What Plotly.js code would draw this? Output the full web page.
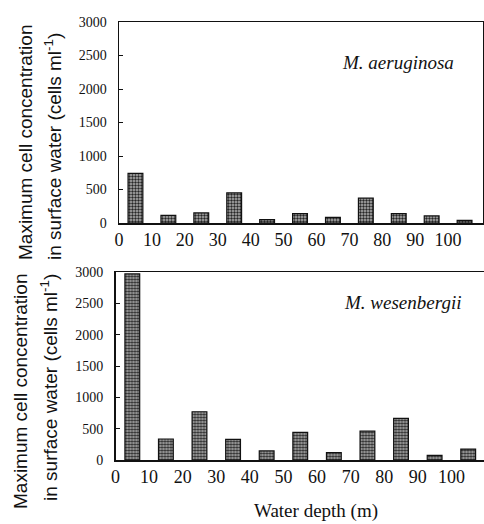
<!DOCTYPE html>
<html>
<head>
<meta charset="utf-8">
<script src="https://cdn.plot.ly/plotly-3.0.1.min.js"></script>
<style>html,body{margin:0;padding:0;background:#fff;}#chart{width:484px;height:524px;}</style>
</head>
<body>
<div id="chart"></div>
<script>
// Water depth bins (bar centres, m)
const depths = [5, 15, 25, 35, 45, 55, 65, 75, 85, 95, 105];
// Maximum cell concentration in surface water (cells ml-1)
const aeruginosa = [740, 115, 150, 450, 50, 140, 85, 370, 140, 105, 40];
const wesenbergii = [2970, 335, 770, 330, 145, 440, 120, 460, 665, 75, 175];
// Axis ticks
const xTicks = [0, 10, 20, 30, 40, 50, 60, 70, 80, 90, 100];
const yTicks = [0, 500, 1000, 1500, 2000, 2500, 3000];
const species = ["M. aeruginosa", "M. wesenbergii"];
const yTitle1 = "Maximum cell concentration";
const yTitle2 = "in surface water (cells ml<sup>-1</sup>)";
const xTitle = "Water depth (m)";

const W = 484, H = 524;
const px = v => v / W;
const py = v => 1 - v / H;

const barMarker = {
  color: '#a8a8a8',
  line: {color: '#111', width: 1.2},
  pattern: {shape: '.', fillmode: 'replace', bgcolor: '#b4b4b4', fgcolor: '#262626', size: 3, solidity: 0.5}
};

const traces = [
  {type: 'bar', x: depths, y: aeruginosa, width: 4.5, marker: barMarker, xaxis: 'x', yaxis: 'y', showlegend: false},
  {type: 'bar', x: depths, y: wesenbergii, width: 4.4, marker: barMarker, xaxis: 'x2', yaxis: 'y2', showlegend: false}
];

const serif = '"Liberation Serif", "Times New Roman", Times, "DejaVu Serif", serif';
const sans = '"Liberation Sans", Arial, sans-serif';

const xCommon = {
  tickmode: 'array', tickvals: xTicks, ticktext: xTicks.map(String),
  ticks: '', showgrid: false, zeroline: false,
  showline: true, linecolor: '#111', linewidth: 1.5,
  tickfont: {family: serif, size: 18, color: '#111'}
};
const yCommon = {
  tickmode: 'array', tickvals: yTicks, ticktext: yTicks.map(String),
  ticks: 'inside', ticklen: 4, tickcolor: '#111', tickwidth: 1,
  showgrid: false, zeroline: false,
  showline: true, linecolor: '#111', linewidth: 1.5,
  range: [0, 3000], ticklabelstandoff: 8,
  tickfont: {family: serif, size: 14, color: '#111'}
};

const layout = {
  width: W, height: H,
  margin: {l: 0, r: 0, t: 0, b: 0},
  paper_bgcolor: '#fff', plot_bgcolor: '#fff',
  font: {family: serif, color: '#111'},
  bargap: 0,
  xaxis: Object.assign({}, xCommon, {domain: [px(119), px(483)], range: [0, 110.6], anchor: 'y', mirror: true}),
  yaxis: Object.assign({}, yCommon, {domain: [py(223), py(22)], anchor: 'x', mirror: true}),
  xaxis2: Object.assign({}, xCommon, {domain: [px(115.5), 1], range: [0, 109.7], anchor: 'y2', mirror: true}),
  yaxis2: Object.assign({}, yCommon, {domain: [py(460), py(272)], anchor: 'x2', mirror: false}),
  annotations: [
    {text: '<i>' + species[0] + '</i>', xref: 'paper', yref: 'paper', x: px(398), y: py(62), xanchor: 'center', yanchor: 'middle', showarrow: false,
     font: {family: serif, size: 19, color: '#111'}},
    {text: '<i>' + species[1] + '</i>', xref: 'paper', yref: 'paper', x: px(402), y: py(302), xanchor: 'center', yanchor: 'middle', showarrow: false,
     font: {family: serif, size: 19, color: '#111'}},
    {text: yTitle1, xref: 'paper', yref: 'paper', x: px(26), y: py(143), xanchor: 'center', yanchor: 'middle', textangle: -90, showarrow: false,
     font: {family: sans, size: 19, color: '#111'}},
    {text: yTitle2, xref: 'paper', yref: 'paper', x: px(53), y: py(147), xanchor: 'center', yanchor: 'middle', textangle: -90, showarrow: false,
     font: {family: sans, size: 19, color: '#111'}},
    {text: yTitle1, xref: 'paper', yref: 'paper', x: px(20), y: py(392), xanchor: 'center', yanchor: 'middle', textangle: -90, showarrow: false,
     font: {family: sans, size: 19, color: '#111'}},
    {text: yTitle2, xref: 'paper', yref: 'paper', x: px(49), y: py(388), xanchor: 'center', yanchor: 'middle', textangle: -90, showarrow: false,
     font: {family: sans, size: 19, color: '#111'}},
    {text: xTitle, xref: 'paper', yref: 'paper', x: px(316), y: py(511), xanchor: 'center', yanchor: 'middle', showarrow: false,
     font: {family: serif, size: 19, color: '#111'}}
  ]
};

Plotly.newPlot('chart', traces, layout, {staticPlot: true, displayModeBar: false});
</script>
</body>
</html>
